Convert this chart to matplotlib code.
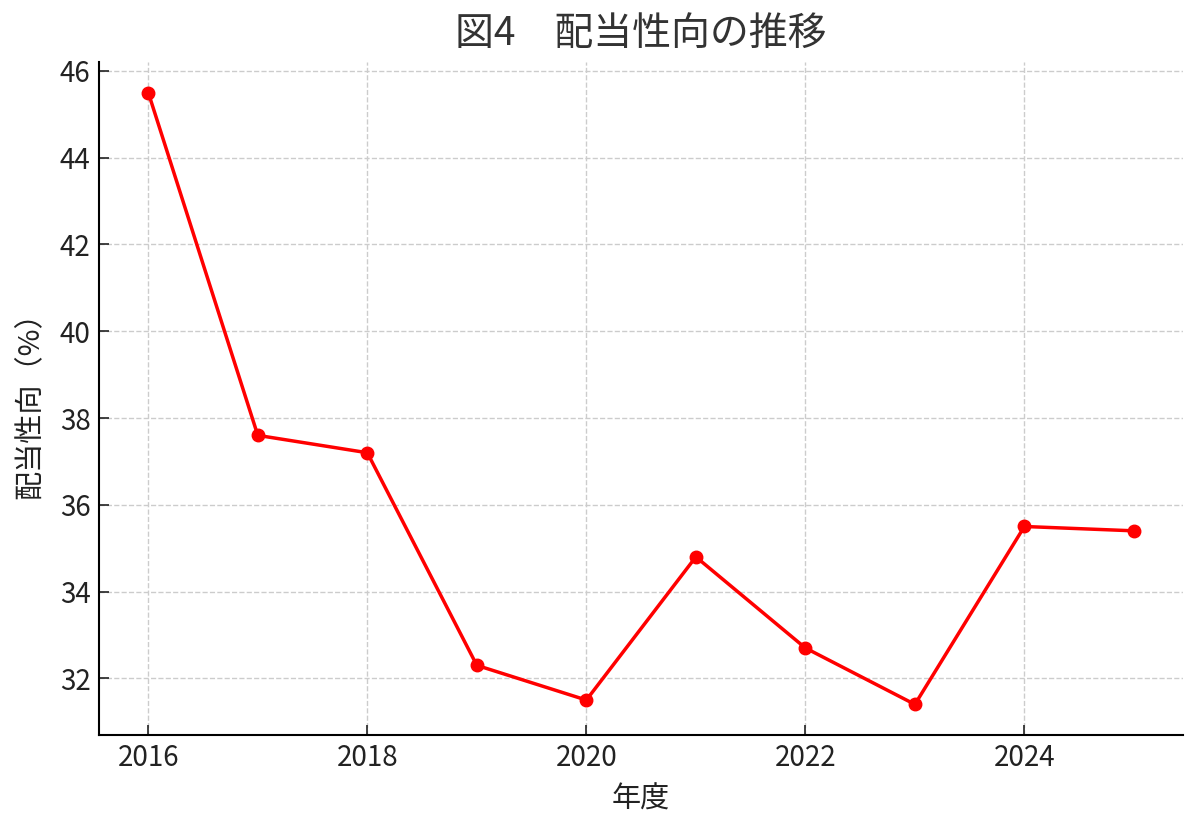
import matplotlib
matplotlib.use("Agg")
import matplotlib.pyplot as plt

plt.rcParams['font.family'] = ['Noto Sans CJK JP', 'DejaVu Sans']

# 年度ごとの配当性向（%）
years = [2016, 2017, 2018, 2019, 2020, 2021, 2022, 2023, 2024, 2025]
payout_ratio = [45.5, 37.6, 37.2, 32.3, 31.5, 34.8, 32.7, 31.4, 35.5, 35.4]

title = "図4　配当性向の推移"
xlabel = "年度"
ylabel = "配当性向（%）"

fig = plt.figure(figsize=(12, 8.32), dpi=100)
ax = fig.add_axes([0.0825, 0.1166, 0.9035, 0.8089])

ax.plot(years, payout_ratio, color="red", linewidth=2.5, marker="o", markersize=9)

ax.set_title(title, fontsize=28, color="#333333", pad=12)
ax.set_xlabel(xlabel, fontsize=21, color="#222222", labelpad=8)
ax.set_ylabel(ylabel, fontsize=21, color="#222222", labelpad=10)

ax.set_xticks([2016, 2018, 2020, 2022, 2024])
ax.set_yticks([32, 34, 36, 38, 40, 42, 44, 46])
ax.tick_params(direction="in", labelsize=20, length=7, width=1.2, colors="#222222", pad=6)

ax.grid(True, linestyle="--", color="#cccccc", linewidth=1)
ax.spines["top"].set_visible(False)
ax.spines["right"].set_visible(False)
ax.spines["left"].set_linewidth(1.5)
ax.spines["bottom"].set_linewidth(1.5)

fig.savefig("out.png", dpi=100)
